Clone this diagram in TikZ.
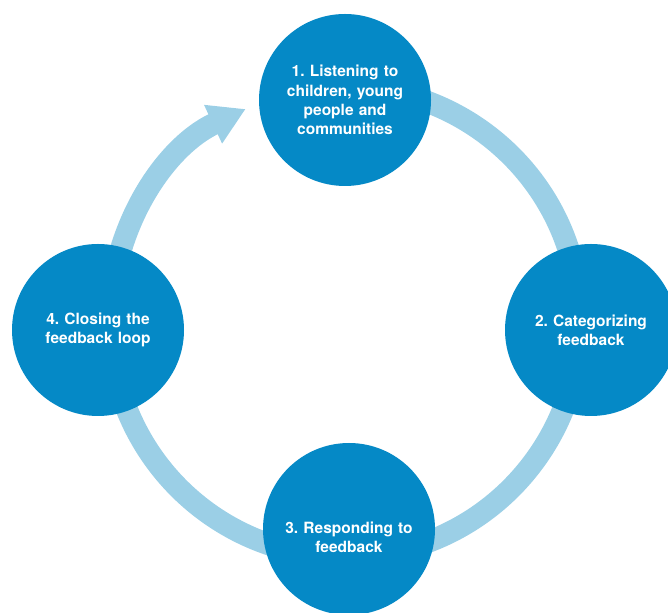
\documentclass[tikz,border=0pt]{standalone}
\usepackage{fontspec}
\setmainfont{TeX Gyre Heros}
\usepackage{xcolor}
\usepackage{tikz}
\usetikzlibrary{arrows.meta}

\definecolor{stageblue}{RGB}{5,137,198}
\definecolor{ringblue}{RGB}{155,207,230}
\frenchspacing

\begin{document}
\begin{tikzpicture}[x=1pt, y=1pt,
    stage/.style={circle, fill=stageblue, minimum size=172pt, inner sep=0pt},
    stagetext/.style={text=white, text width=140pt, align=center,
        font=\fontsize{15.5}{19.3}\selectfont\bfseries},
    ring/.style={draw=ringblue, line width=22pt}]
    			\useasboundingbox (0,0) rectangle (668,612);
    			\coordinate (ringc) at (345,290);
    			
    			% the loop behind the stages
    			\draw[ring] ([shift={(100:235)}]ringc) arc[start angle=100, end angle=-180, radius=235];
    			\draw[ring, -{Triangle[length=36pt, width=40pt]}]
    				([shift={(180:235)}]ringc) arc[start angle=180, end angle=115, radius=235];
    			
    			\foreach \x/\y/\dy/\name/\label in {
    				345/512/0/listen/{1. Listening to\\children, young\\people and\\communities},
    				591/282/0/sort/{2. Categorizing\\feedback},
    				349/83/-8/respond/{3. Responding to\\feedback},
    				98/282/0/close/{4. Closing the\\feedback loop}
    			}{
    				\node[stage] (\name) at (\x,\y) {};
    				\node[stagetext] at ([yshift=\dy]\name.center) {\label};
    			}
    		\end{tikzpicture}
\end{document}
